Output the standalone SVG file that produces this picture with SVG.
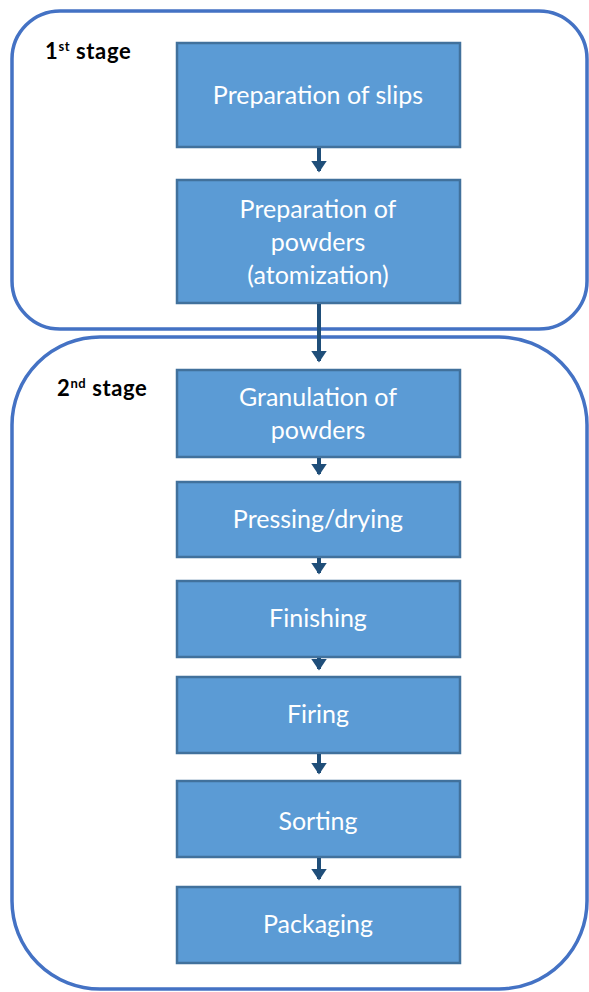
<svg xmlns="http://www.w3.org/2000/svg" width="589" height="992" viewBox="0 0 589 992">
<style>
.stage{fill:#fff;stroke:#4472C4;stroke-width:3.5}
.box{fill:#5B9BD5;stroke:#41719C;stroke-width:2.5}
.t{font-family:Lato,"Open Sans","Liberation Sans",sans-serif;font-size:25px;fill:#fff;text-anchor:middle}
.lab{font-family:Lato,"Liberation Sans",Arial,sans-serif;font-weight:bold;font-size:22px;fill:#000}
.conn{stroke:#1F4E79;stroke-width:4;fill:none}
</style>
<defs>
<marker id="ah" markerWidth="4" markerHeight="4" refX="2.6" refY="2" orient="auto" markerUnits="strokeWidth">
<path d="M0,0 L3,2 L0,4 z" fill="#1F4E79"/>
</marker>
</defs>
<g id="stage1">
<rect class="stage" x="12" y="11" width="575" height="318" rx="48" ry="48"/>
<text class="lab" x="45" y="59" letter-spacing="0.6">1<tspan font-size="13" dy="-8">st</tspan><tspan dy="8"> stage</tspan></text>
</g>
<g id="stage2">
<rect class="stage" x="12" y="337" width="575" height="652" rx="88" ry="88"/>
<text class="lab" x="57" y="396" letter-spacing="0.6">2<tspan font-size="13" dy="-8">nd</tspan><tspan dy="8"> stage</tspan></text>
</g>
<g id="n1"><rect class="box" x="177" y="43" width="283" height="104"/><text class="t" x="318" y="104">Preparation of slips</text></g>
<g id="n2"><rect class="box" x="177" y="180" width="283" height="123"/><text class="t" x="318" y="218">Preparation of</text><text class="t" x="318" y="251">powders</text><text class="t" x="318" y="284">(atomization)</text></g>
<g id="n3"><rect class="box" x="177" y="370" width="283" height="87"/><text class="t" x="318" y="406">Granulation of</text><text class="t" x="318" y="439">powders</text></g>
<g id="n4"><rect class="box" x="177" y="482" width="283" height="75"/><text class="t" x="318" y="528">Pressing/drying</text></g>
<g id="n5"><rect class="box" x="177" y="581" width="283" height="76"/><text class="t" x="318" y="627">Finishing</text></g>
<g id="n6"><rect class="box" x="177" y="677" width="283" height="76"/><text class="t" x="318" y="723">Firing</text></g>
<g id="n7"><rect class="box" x="177" y="781" width="283" height="76"/><text class="t" x="318" y="830">Sorting</text></g>
<g id="n8"><rect class="box" x="177" y="887" width="283" height="76"/><text class="t" x="318" y="933">Packaging</text></g>
<g id="connectors">
<line class="conn" x1="319" y1="148" x2="319" y2="171" marker-end="url(#ah)"/>
<line class="conn" x1="319" y1="304" x2="319" y2="361" marker-end="url(#ah)"/>
<line class="conn" x1="319" y1="458" x2="319" y2="474" marker-end="url(#ah)"/>
<line class="conn" x1="319" y1="558" x2="319" y2="573" marker-end="url(#ah)"/>
<line class="conn" x1="319" y1="658" x2="319" y2="669" marker-end="url(#ah)"/>
<line class="conn" x1="319" y1="754" x2="319" y2="773" marker-end="url(#ah)"/>
<line class="conn" x1="319" y1="858" x2="319" y2="879" marker-end="url(#ah)"/>
</g>
</svg>
